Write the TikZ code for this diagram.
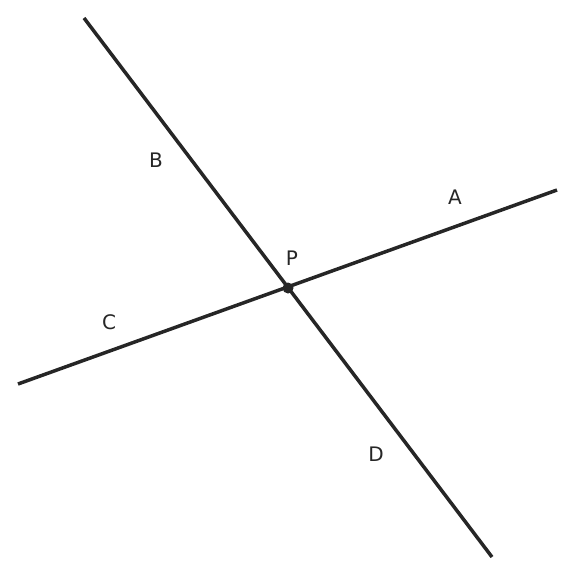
\documentclass[tikz,border=0pt]{standalone}
\usepackage{fontspec}
\setmainfont{DejaVu Sans}
\begin{document}
\begin{tikzpicture}[x=1pt,y=-1pt,
  ln/.style={line width=3.5pt,draw=black!85},
  lbl/.style={font=\fontsize{20}{22}\selectfont,text=black!85,inner sep=0pt}]
\useasboundingbox (0,0) rectangle (576,576);
\coordinate (P) at (288,288);
\coordinate (Cend) at (18,384);
\coordinate (Aend) at (557,190);
\coordinate (Bend) at (84,18);
\coordinate (Dend) at (492,557);
\draw[ln] (Cend) -- (Aend);
\draw[ln] (Bend) -- (Dend);
\fill[black!85] (P) circle (5.5);
\node[lbl] (a) at (455,197) {A};
\node[lbl] (b) at (156,160) {B};
\node[lbl] (c) at (109,322) {C};
\node[lbl] (d) at (376,454) {D};
\node[lbl] (p) at (292,258) {P};
\end{tikzpicture}
\end{document}
